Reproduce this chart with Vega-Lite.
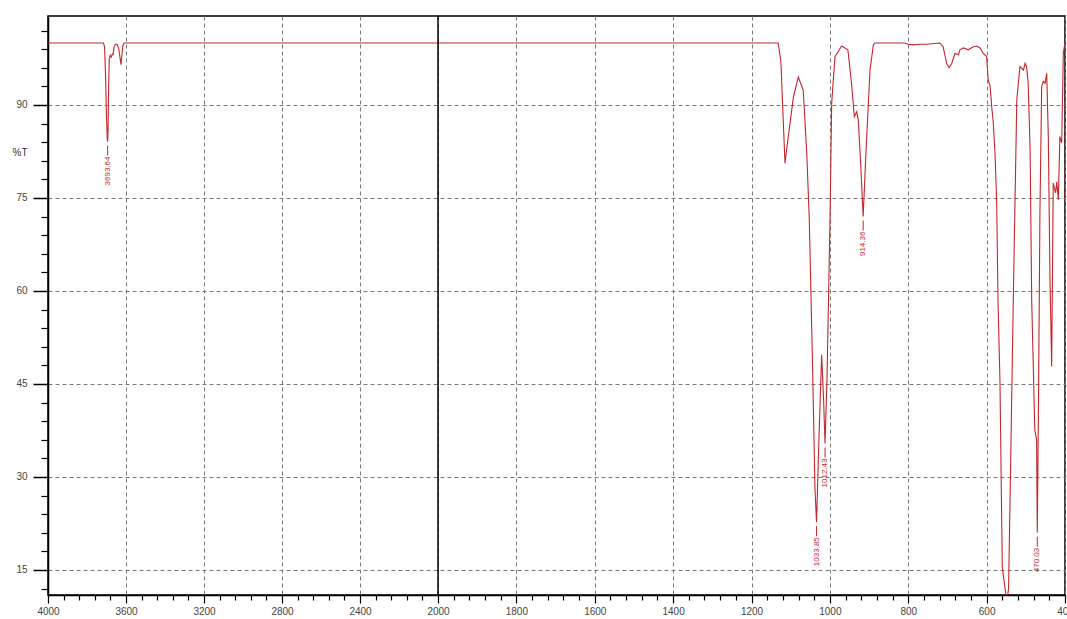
{
  "$schema": "https://vega.github.io/schema/vega-lite/v6.json",
  "width": 1017,
  "height": 579,
  "autosize": {"type": "none"},
  "padding": {"left": 48, "top": 16, "right": 2, "bottom": 24},
  "background": "#ffffff",
  "config": {
    "view": {"stroke": "#000000", "strokeWidth": 1.5},
    "font": "Liberation Sans"
  },
  "datasets": {
    "spectrum": [
      {"wn": 4000, "t": 100}, {"wn": 3716, "t": 100}, {"wn": 3710, "t": 99.4}, {"wn": 3705, "t": 95},
      {"wn": 3700, "t": 88}, {"wn": 3696, "t": 84.5}, {"wn": 3694, "t": 84.1}, {"wn": 3692, "t": 86},
      {"wn": 3689, "t": 93}, {"wn": 3686, "t": 97.4}, {"wn": 3681, "t": 98}, {"wn": 3676, "t": 97.7},
      {"wn": 3670, "t": 98.2}, {"wn": 3666, "t": 98.1}, {"wn": 3662, "t": 99.2}, {"wn": 3655, "t": 99.8},
      {"wn": 3645, "t": 99.8}, {"wn": 3637, "t": 99}, {"wn": 3630, "t": 97.5}, {"wn": 3626, "t": 96.5},
      {"wn": 3622, "t": 97.8}, {"wn": 3616, "t": 99.6}, {"wn": 3610, "t": 100},
      {"wn": 1132, "t": 100}, {"wn": 1125, "t": 97}, {"wn": 1118, "t": 86}, {"wn": 1114.5, "t": 80.6},
      {"wn": 1110, "t": 83}, {"wn": 1093, "t": 91.3}, {"wn": 1080.6, "t": 94.5}, {"wn": 1068, "t": 92.4},
      {"wn": 1059, "t": 82.3}, {"wn": 1052.5, "t": 71.5}, {"wn": 1044, "t": 47.3}, {"wn": 1038, "t": 28},
      {"wn": 1034, "t": 22.7}, {"wn": 1028, "t": 36}, {"wn": 1021, "t": 49.7}, {"wn": 1016, "t": 42.4},
      {"wn": 1012.4, "t": 35.4}, {"wn": 1007.4, "t": 45.6}, {"wn": 1003.5, "t": 58.5}, {"wn": 999.7, "t": 71.5},
      {"wn": 995.4, "t": 90.3}, {"wn": 987, "t": 97.8}, {"wn": 970, "t": 99.5}, {"wn": 954, "t": 98.9},
      {"wn": 944, "t": 93}, {"wn": 937.7, "t": 88.1}, {"wn": 931.6, "t": 88.9}, {"wn": 927.5, "t": 87.6},
      {"wn": 921, "t": 80}, {"wn": 915, "t": 72}, {"wn": 908, "t": 82.3}, {"wn": 897.6, "t": 95.6},
      {"wn": 889, "t": 99.7}, {"wn": 885, "t": 100}, {"wn": 808, "t": 100}, {"wn": 801, "t": 99.8},
      {"wn": 788, "t": 99.7}, {"wn": 770, "t": 99.8}, {"wn": 753, "t": 99.8}, {"wn": 719, "t": 100},
      {"wn": 711, "t": 99.4}, {"wn": 702, "t": 96.7}, {"wn": 696, "t": 96.0}, {"wn": 689, "t": 96.7},
      {"wn": 681, "t": 98.3}, {"wn": 672, "t": 98.1}, {"wn": 668, "t": 98.9}, {"wn": 659.5, "t": 99.2},
      {"wn": 647, "t": 98.9}, {"wn": 634, "t": 99.4}, {"wn": 625, "t": 99.5}, {"wn": 617, "t": 99.2},
      {"wn": 608.5, "t": 98.3}, {"wn": 600, "t": 97.8}, {"wn": 596, "t": 94.0}, {"wn": 591, "t": 93},
      {"wn": 587, "t": 89.7}, {"wn": 583, "t": 87.1}, {"wn": 578.6, "t": 82.3}, {"wn": 574.3, "t": 74.2},
      {"wn": 571, "t": 58.5}, {"wn": 566, "t": 45.6}, {"wn": 560, "t": 15.5}, {"wn": 553, "t": 12},
      {"wn": 548, "t": 10}, {"wn": 544, "t": 12}, {"wn": 539, "t": 31}, {"wn": 532, "t": 58.5},
      {"wn": 523, "t": 90.8}, {"wn": 515, "t": 96.2}, {"wn": 506, "t": 95.6}, {"wn": 502, "t": 96.7},
      {"wn": 498, "t": 96.2}, {"wn": 494, "t": 93.5}, {"wn": 489, "t": 82.7}, {"wn": 485, "t": 58.5},
      {"wn": 477, "t": 37.6}, {"wn": 472.5, "t": 36}, {"wn": 470.7, "t": 21}, {"wn": 467.6, "t": 42.4},
      {"wn": 464, "t": 72.6}, {"wn": 459.5, "t": 93}, {"wn": 455.4, "t": 93.8}, {"wn": 451, "t": 93.5},
      {"wn": 446.7, "t": 95.1}, {"wn": 442.6, "t": 84.9}, {"wn": 438.3, "t": 61.8}, {"wn": 434, "t": 47.8},
      {"wn": 430, "t": 77.4}, {"wn": 424, "t": 75.8}, {"wn": 421, "t": 77.6}, {"wn": 417, "t": 74.7},
      {"wn": 413, "t": 84.9}, {"wn": 408.4, "t": 83.9}, {"wn": 404.3, "t": 98.4}, {"wn": 400, "t": 100}
    ],
    "peaks": [
      {"wn": 3694, "t": 84.1, "label": "3693.64"},
      {"wn": 1034, "t": 22.7, "label": "1033.85"},
      {"wn": 1012.4, "t": 35.4, "label": "1012.43"},
      {"wn": 915, "t": 72, "label": "914.36"},
      {"wn": 470.7, "t": 21, "label": "470.03"}
    ],
    "split": [{"wn": 2000}]
  },
  "resolve": {"axis": {"x": "independent", "y": "independent"}},
  "layer": [
    {
      "data": {"name": "spectrum"},
      "mark": {"type": "line", "color": "#c4262b", "strokeWidth": 1.1, "clip": true, "interpolate": "linear"},
      "encoding": {
        "x": {
          "field": "wn", "type": "quantitative",
          "scale": {"type": "linear", "domain": [4000, 2000, 400], "range": [0, 390, 1017], "nice": false, "zero": false},
          "axis": {
            "orient": "bottom", "title": null,
            "values": [4000, 3600, 3200, 2800, 2400, 2000, 1800, 1600, 1400, 1200, 1000, 800, 600, 400],
            "format": "d", "grid": true, "gridDash": [4, 3], "gridColor": "#7a7a7a", "gridWidth": 1,
            "domainColor": "#000000", "domainWidth": 1.5, "tickColor": "#000000", "tickSize": 8, "tickWidth": 1.2,
            "labelFontSize": 10, "labelColor": "#444444", "labelPadding": 3, "labelFlush": false, "labelOverlap": false
          }
        },
        "y": {
          "field": "t", "type": "quantitative",
          "scale": {"domain": [10.96, 104.35], "nice": false, "zero": false},
          "axis": {
            "orient": "left",
            "values": [15, 30, 45, 60, 75, 90],
            "grid": true, "gridDash": [4, 3], "gridColor": "#7a7a7a", "gridWidth": 1,
            "domainColor": "#000000", "domainWidth": 1.5, "tickColor": "#000000", "tickSize": 15, "tickWidth": 1.5,
            "labelFontSize": 10, "labelColor": "#444444", "labelPadding": 6,
            "title": "%T", "titleAngle": 0, "titleX": -36, "titleY": 136, "titleAlign": "left",
            "titleBaseline": "middle", "titleFontSize": 10, "titleFontWeight": "normal", "titleColor": "#333333"
          }
        }
      }
    },
    {
      "data": {"name": "split"},
      "mark": {"type": "rule", "color": "#000000", "strokeWidth": 1.5},
      "encoding": {
        "x": {
          "field": "wn", "type": "quantitative",
          "axis": {
            "orient": "bottom", "title": null, "labels": false, "grid": false, "domain": false,
            "tickColor": "#000000", "tickSize": 5, "tickWidth": 1.2,
            "values": [3920, 3840, 3760, 3680, 3520, 3440, 3360, 3280, 3120, 3040, 2960, 2880, 2720, 2640, 2560, 2480, 2320, 2240, 2160, 2080,
                       1960, 1920, 1880, 1840, 1760, 1720, 1680, 1640, 1560, 1520, 1480, 1440, 1360, 1320, 1280, 1240, 1160, 1120, 1080, 1040,
                       960, 920, 880, 840, 760, 720, 680, 640, 560, 520, 480, 440]
          }
        }
      }
    },
    {
      "data": {"name": "peaks"},
      "mark": {"type": "rule", "color": "#c4262b", "strokeWidth": 1, "yOffset": 4, "y2Offset": 14},
      "encoding": {
        "x": {"field": "wn", "type": "quantitative", "axis": null},
        "y": {
          "field": "t", "type": "quantitative",
          "axis": {
            "orient": "left", "title": null, "labels": false, "grid": false, "domain": false,
            "tickColor": "#000000", "tickSize": 7, "tickWidth": 1.2,
            "values": [12, 18, 21, 24, 27, 33, 36, 39, 42, 48, 51, 54, 57, 63, 66, 69, 72, 78, 81, 84, 87, 93, 96, 99, 102]
          }
        },
        "y2": {"field": "t"}
      }
    },
    {
      "data": {"name": "peaks"},
      "mark": {"type": "text", "color": "#c4262b", "fontSize": 8, "angle": 270, "align": "right", "baseline": "middle", "yOffset": 15},
      "encoding": {
        "x": {"field": "wn", "type": "quantitative", "axis": null},
        "y": {"field": "t", "type": "quantitative", "axis": null},
        "text": {"field": "label"}
      }
    }
  ]
}
